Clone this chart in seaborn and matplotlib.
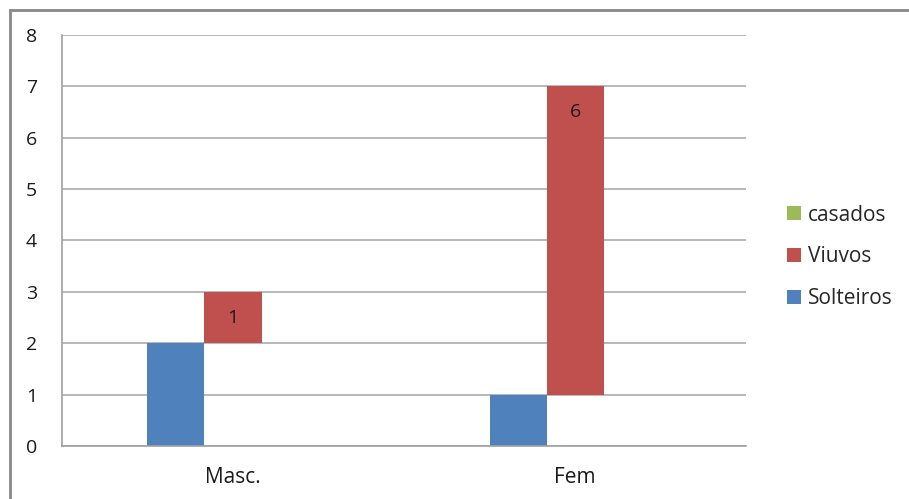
import pandas as pd
import matplotlib.pyplot as plt
import matplotlib.patches as mpatches
import seaborn as sns

# Data
categories = ['Masc.', 'Fem']
series = ['Solteiros', 'Viuvos', 'casados']
solteiros = [2, 1]
viuvos = [1, 6]
casados = [0, 0]
colors = ['#4F81BD', '#C0504D', '#9BBB59']

values = {'Solteiros': solteiros, 'Viuvos': viuvos, 'casados': casados}
df = pd.DataFrame([
    {'sexo': c, 'serie': s, 'valor': values[s][i]}
    for s in series for i, c in enumerate(categories)
])

sns.set_style('white')
plt.rcParams['font.family'] = ['Open Sans', 'DejaVu Sans']

fig = plt.figure(figsize=(9.09, 4.99), dpi=100)
ax = fig.add_axes([0.0682, 0.1062, 0.7525, 0.8237])

sns.barplot(data=df, x='sexo', y='valor', hue='serie', order=categories,
            hue_order=series, palette=colors, width=0.5, dodge=True,
            saturation=1, errorbar=None, linewidth=0, ax=ax)

# stack each series on top of the previous ones (floating bars)
bottoms = [0] * len(categories)
for k, cont in enumerate(ax.containers):
    s = series[k]
    for i, patch in enumerate(cont.patches):
        patch.set_y(bottoms[i])
        if s == 'Viuvos':
            ax.text(patch.get_x() + patch.get_width() / 2,
                    bottoms[i] + values[s][i] - 0.5, str(values[s][i]),
                    ha='center', va='center', fontsize=14, color='#1a1a1a')
    bottoms = [b + v for b, v in zip(bottoms, values[s])]

ax.set_ylim(0, 8)
ax.set_xlim(-0.5, 1.5)
ax.set_yticks(range(0, 9))
ax.yaxis.grid(True, color='#ababab', linewidth=1.2)
ax.set_axisbelow(True)
for side in ['top', 'right']:
    ax.spines[side].set_visible(False)
for side in ['left', 'bottom']:
    ax.spines[side].set_color('#a0a0a0')
    ax.spines[side].set_linewidth(1.2)
ax.tick_params(axis='both', length=0, colors='#1a1a1a')
ax.tick_params(axis='y', pad=18, labelsize=14)
ax.tick_params(axis='x', pad=15, labelsize=15)
ax.set_xlabel('')
ax.set_ylabel('')

handles, labels = ax.get_legend_handles_labels()
ax.legend(handles[::-1], labels[::-1], loc='center left',
          bbox_to_anchor=(1.06, 0.46), frameon=False, fontsize=15,
          handlelength=0.65, handleheight=0.65, handletextpad=0.35,
          labelspacing=1.0, borderpad=0, borderaxespad=0)

# outer chart border
fig.patches.append(mpatches.Rectangle((0.0105, -0.1), 1.2, 1.08,
                                      transform=fig.transFigure, fill=False,
                                      edgecolor='#888888', linewidth=2))

plt.savefig('out.png', dpi=100)
